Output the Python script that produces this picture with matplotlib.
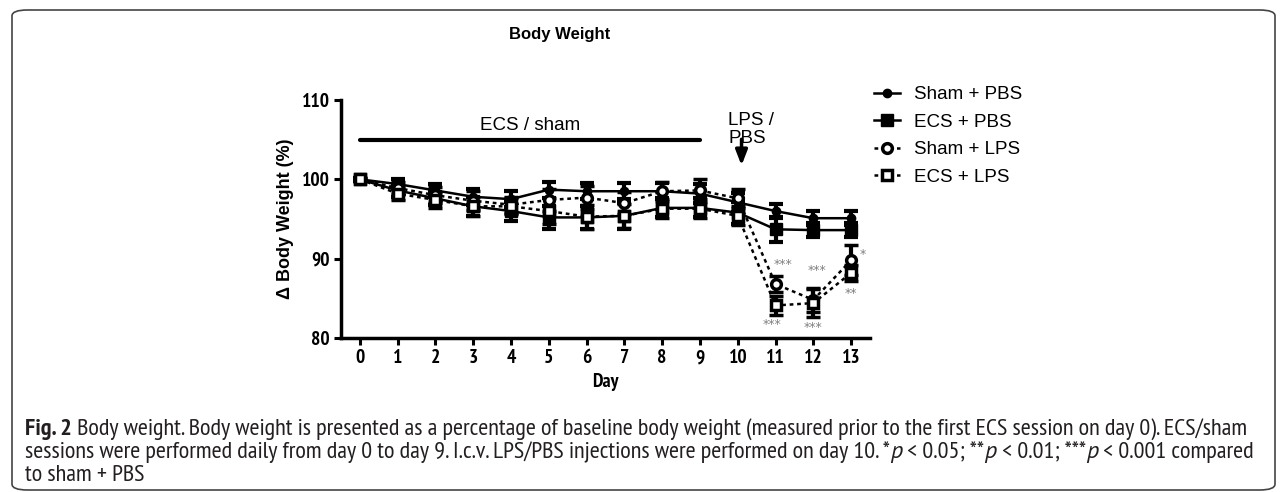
import matplotlib.pyplot as plt
from matplotlib.lines import Line2D
from matplotlib.patches import FancyBboxPatch

# Body weight (% of baseline), mean and SEM per day
days = list(range(14))
sham_pbs = [100, 99.4, 98.6, 97.8, 97.5, 98.7, 98.5, 98.5, 98.5, 98.2, 97.1, 96.0, 95.1, 95.1]
ecs_pbs = [100, 98.6, 97.6, 96.6, 96.0, 95.2, 95.2, 95.4, 96.4, 96.4, 95.8, 93.7, 93.6, 93.6]
sham_lps = [100, 98.9, 98.0, 97.3, 96.8, 97.4, 97.7, 97.0, 98.5, 98.6, 97.6, 86.8, 84.8, 89.8]
ecs_lps = [100, 98.2, 97.4, 96.6, 96.6, 96.0, 95.3, 95.4, 96.3, 96.3, 95.4, 84.1, 84.4, 88.2]

sham_pbs_sem = [0.2, 0.6, 0.8, 1.0, 1.0, 1.0, 1.0, 1.0, 1.0, 1.2, 1.2, 0.9, 0.9, 0.9]
ecs_pbs_sem = [0.2, 0.8, 0.8, 1.2, 1.2, 1.4, 1.5, 1.6, 1.2, 1.2, 1.4, 1.6, 0.9, 0.9]
sham_lps_sem = [0.2, 0.8, 1.0, 1.2, 1.0, 1.4, 1.5, 1.4, 1.2, 1.5, 1.2, 1.0, 1.5, 1.9]
ecs_lps_sem = [0.2, 0.8, 1.0, 1.2, 1.0, 1.6, 1.5, 1.5, 1.2, 1.2, 1.2, 1.2, 1.8, 1.0]

labels = ['Sham + PBS', 'ECS + PBS', 'Sham + LPS', 'ECS + LPS']

# significance marks vs sham + PBS: (day, y, text)
star_days = [11.2, 10.9, 12.1, 12.0, 13.3, 13.0]
star_y = [89.3, 81.7, 88.5, 81.3, 90.5, 85.6]
star_txt = ['***', '***', '***', '***', '*', '**']

narrow = ['PT Sans Narrow', 'DejaVu Sans']
plain = ['Liberation Sans', 'DejaVu Sans']

fig = plt.figure(figsize=(12.87, 4.92), dpi=100)
fig.patch.set_facecolor('white')

# frame round the figure + caption layer
cap = fig.add_axes([0, 0, 1, 1])
cap.axis('off')
frame = FancyBboxPatch((12 / 1287, 2 / 492), 1263 / 1287, 480 / 492,
                       boxstyle='round,pad=0,rounding_size=0.012',
                       transform=fig.transFigure, fill=False, ec='#444444', lw=1.2)
cap.add_patch(frame)

ax = fig.add_axes([341 / 1287, 1 - 338 / 492, 529 / 1287, 238 / 492])

styles = [
    dict(marker='o', ms=6, mfc='black', ls='-'),
    dict(marker='s', ms=8, mfc='black', ls='-'),
    dict(marker='o', ms=7, mfc='white', mew=2.5, ls=(0, (1.5, 1.5))),
    dict(marker='s', ms=7, mfc='white', mew=2.5, ls=(0, (1.5, 1.5))),
]
series = [(sham_pbs, sham_pbs_sem), (ecs_pbs, ecs_pbs_sem),
          (sham_lps, sham_lps_sem), (ecs_lps, ecs_lps_sem)]
handles = []
for (vals, err), st, lab in zip(series, styles, labels):
    ax.errorbar(days, vals, yerr=err, color='black', ecolor='black', elinewidth=3,
                capsize=5, capthick=3, lw=1.8, mec='black', zorder=3, **st)
    handles.append(Line2D([0], [0], color='black', lw=1.8, mec='black', **st))

for x, y, t in zip(star_days, star_y, star_txt):
    ax.text(x, y, t, ha='center', va='center', color='#808080', fontsize=9)

# ECS / sham period bar and LPS arrow
ax.plot([0, 9], [104.9, 104.9], color='black', lw=3, solid_capstyle='round')
ax.text(4.5, 106.8, 'ECS / sham', ha='center', va='center', fontsize=13.5, family=plain)
ax.text(9.75, 106.3, 'LPS /\nPBS', ha='left', va='center', fontsize=13.5,
        family=plain, linespacing=1.05)
ax.annotate('', xy=(10.1, 101.4), xytext=(10.1, 105.4),
            arrowprops=dict(arrowstyle='-|>,head_width=0.35,head_length=0.9',
                            color='black', lw=2.5))

ax.set_xlim(-0.5, 13.5)
ax.set_ylim(80, 110)
ax.set_xticks(days)
ax.set_yticks([80, 90, 100, 110])
for s in ['top', 'right']:
    ax.spines[s].set_visible(False)
for s in ['left', 'bottom']:
    ax.spines[s].set_linewidth(2.5)
ax.tick_params(direction='out', length=5, width=2.2, labelsize=14, pad=3)
for lbl in ax.get_xticklabels() + ax.get_yticklabels():
    lbl.set_family(narrow)
    lbl.set_fontweight('bold')
ax.set_xlabel('Day', fontsize=14, family=narrow, fontweight='bold', labelpad=4)
ax.set_ylabel('Δ Body Weight (%)', fontsize=13, family=plain, fontweight='bold', labelpad=6)

fig.text(560 / 1287, 1 - 35 / 492, 'Body Weight', ha='center', va='center',
         fontsize=12, fontweight='bold', family=plain)

fig.legend(handles, labels, loc='upper left', bbox_to_anchor=(874 / 1287, 1 - 86 / 492),
           frameon=False, prop=dict(family=plain, size=13.5), handlelength=1.4,
           handletextpad=0.75, labelspacing=0.56, borderpad=0, borderaxespad=0)

# caption, chained piece by piece
cap_col = '#231f20'
line1 = [('Fig. 2', 'bold', 'normal'),
         (' Body weight. Body weight is presented as a percentage of baseline body weight '
          '(measured prior to the first ECS session on day 0). ECS/sham', 'normal', 'normal')]
line2 = [('sessions were performed daily from day 0 to day 9. I.c.v. LPS/PBS injections were '
          'performed on day 10. *', 'normal', 'normal'),
         ('p', 'normal', 'italic'), (' < 0.05; **', 'normal', 'normal'),
         ('p', 'normal', 'italic'), (' < 0.01; ***', 'normal', 'normal'),
         ('p', 'normal', 'italic'), (' < 0.001 compared', 'normal', 'normal')]
line3 = [('to sham + PBS', 'normal', 'normal')]
cap_texts = []
line_ends = []
for y, pieces in zip([1 - 435 / 492, 1 - 458 / 492, 1 - 481 / 492], [line1, line2, line3]):
    prev = None
    for txt, w, sty in pieces:
        fam = ['PT Sans', 'DejaVu Sans'] if sty == 'italic' else narrow
        if prev is None:
            prev = cap.text(25 / 1287, y, txt, ha='left', va='baseline', fontweight=w,
                            style=sty, family=fam, fontsize=12, color=cap_col,
                            transform=fig.transFigure)
        else:
            prev = cap.annotate(txt, xy=(1, 0), xycoords=prev, ha='left', va='bottom',
                                fontweight=w, style=sty, family=fam, fontsize=12,
                                color=cap_col)
        cap_texts.append(prev)
    line_ends.append(prev)

# fit caption size so lines 1 and 2 end near where they do in the original
fig.canvas.draw()
r = fig.canvas.get_renderer()
s1 = (1268 - 25) / (line_ends[0].get_window_extent(r).x1 - 25)
s2 = (1227 - 25) / (line_ends[1].get_window_extent(r).x1 - 25)
scale = (s1 + s2) / 2
for t in cap_texts:
    t.set_fontsize(12 * scale)

fig.savefig('out.png', dpi=100, facecolor='white')
